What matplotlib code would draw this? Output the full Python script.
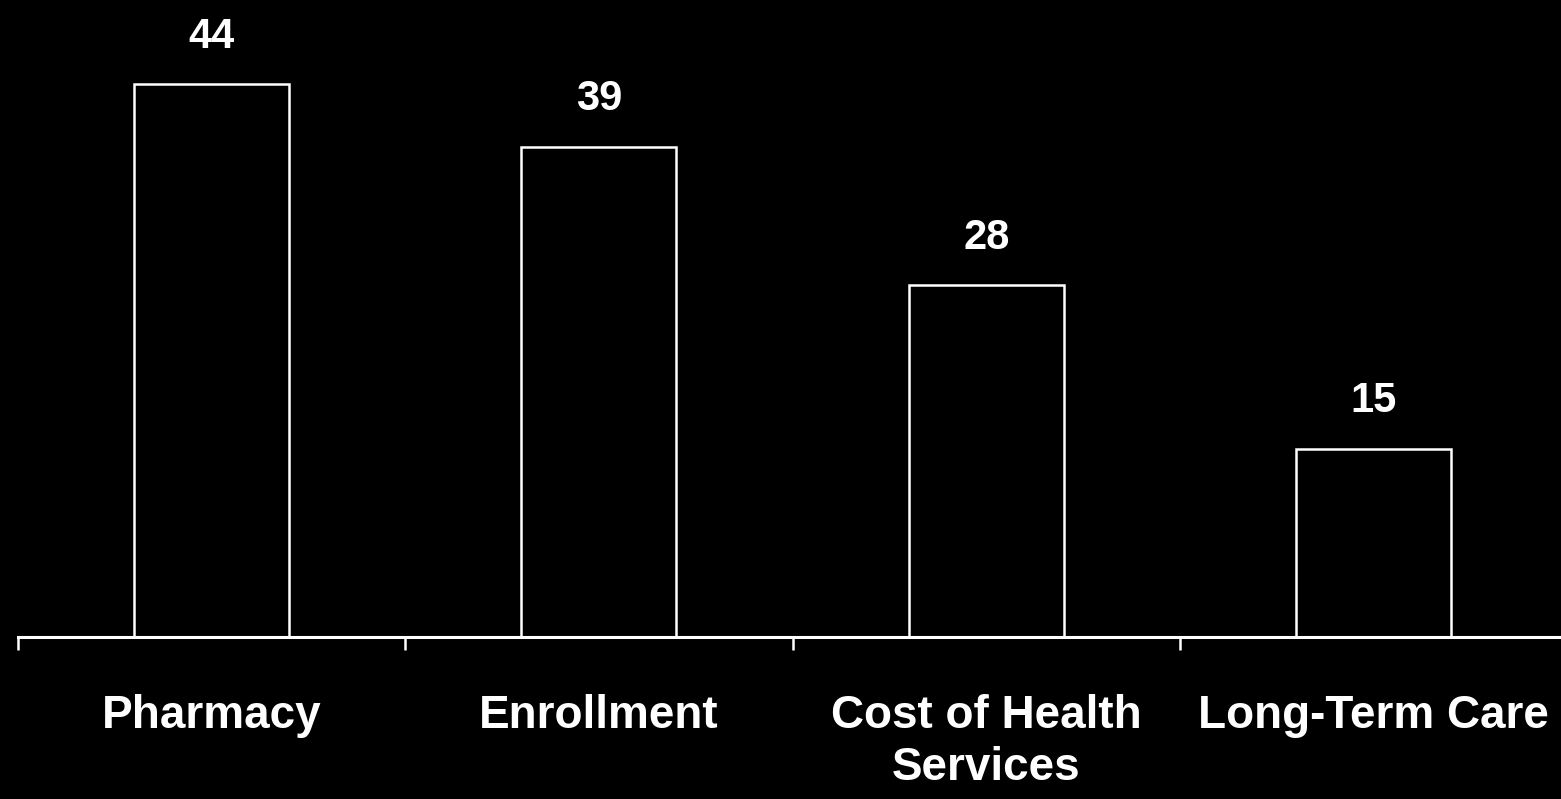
import matplotlib.pyplot as plt
import numpy as np

categories = ['Pharmacy', 'Enrollment', 'Cost of Health\nServices', 'Long-Term Care']
values = [44, 39, 28, 15]

plt.rcParams['font.family'] = ['Liberation Sans', 'DejaVu Sans']
plt.rcParams['font.weight'] = 'bold'

fig = plt.figure(figsize=(15.61, 7.99), dpi=100, facecolor='black')
ax = fig.add_axes([18 / 1561, 162 / 799, 1543 / 1561, 628 / 799])
ax.set_facecolor('black')

x = np.arange(len(categories))
bars = ax.bar(x, values, width=0.40, facecolor='black', edgecolor='white', linewidth=1.8)

for b, v in zip(bars, values):
    ax.annotate(str(v), (b.get_x() + b.get_width() / 2, v), xytext=(0, 20),
                textcoords='offset points', ha='center', va='bottom',
                color='white', fontsize=30, fontweight='bold')

ax.set_xlim(-0.5, 3.484)
ax.set_ylim(0, 50)

# ticks sit between the categories, labels sit under the bars
ax.set_xticks(x - 0.5)
ax.set_xticklabels([])
ax.set_xticks(x, minor=True)
ax.set_xticklabels(categories, minor=True, fontsize=33, fontweight='bold', color='white',
                   linespacing=1.25)
ax.tick_params(axis='x', which='major', direction='out', length=9.5, width=1.8, color='white')
ax.tick_params(axis='x', which='minor', length=0, pad=41)
ax.set_yticks([])

for s in ['top', 'right', 'left']:
    ax.spines[s].set_visible(False)
ax.spines['bottom'].set_color('white')
ax.spines['bottom'].set_linewidth(2.2)

fig.savefig('out.png', dpi=100, facecolor='black')
